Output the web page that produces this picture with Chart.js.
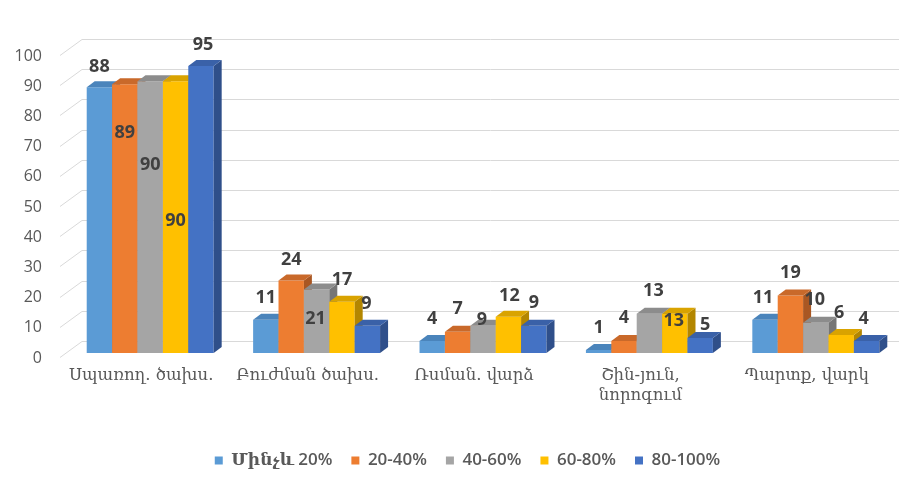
<!DOCTYPE html>
<html>
<head>
<meta charset="utf-8">
<script src="https://cdn.jsdelivr.net/npm/chart.js@4.4.1/dist/chart.umd.min.js"></script>
<style>
  html, body { margin: 0; padding: 0; background: #ffffff; }
  #wrap { width: 904px; height: 487px; position: relative; }
</style>
</head>
<body>
<div id="wrap"><canvas id="c"></canvas></div>
<script>
// ---- data ----
const categories = [
  "Սպառող. ծախս.",
  "Բուժման ծախս.",
  "Ռսման. վարձ",
  ["Շին-յուն,", "նորոգում"],
  "Պարտք, վարկ"
];
const seriesNames = ["Մինչև 20%", "20-40%", "40-60%", "60-80%", "80-100%"];
const upTo20   = [88, 11, 4, 1, 11];
const p20to40  = [89, 24, 7, 4, 19];
const p40to60  = [90, 21, 9, 13, 10];
const p60to80  = [90, 17, 12, 13, 6];
const p80to100 = [95, 9, 9, 5, 4];
const yTicks = { min: 0, max: 100, step: 10 };

// ---- styles ----
const colors = ["#5b9bd5", "#ed7d31", "#a5a5a5", "#ffc000", "#4472c4"];
const topColors = ["#4a84bb", "#c9692a", "#8c8c8c", "#d9a300", "#3a61a8"];
const sideColors = ["#3d6f9e", "#a95723", "#767676", "#b38600", "#2f4f8a"];
// label offsets from the front-top edge of each bar (px), per series / category
const labelDy = [
  [-20, -22, -22, -22, -22],
  [ 49, -21, -23, -23, -23],
  [ 84,  29,  -6, -23, -23],
  [140, -22, -21,   7, -22],
  [-21, -22, -23, -13, -22]
];
const labelDx = [
  [0, 0, 0, 0, -2],
  [0, 0, 0, 0, 0],
  [0, -1, -1, 4, -1],
  [0, 0, 1, -1, -2],
  [2, -1, 0, 5, -3]
];
const DEPTH_X = 8, DEPTH_Y = 6;
const LEGEND_SHIFT = 18;

const seriesValues = [upTo20, p20to40, p40to60, p60to80, p80to100];

function shade(ctx, pts, fill) {
  ctx.beginPath();
  ctx.moveTo(pts[0][0], pts[0][1]);
  for (let i = 1; i < pts.length; i++) ctx.lineTo(pts[i][0], pts[i][1]);
  ctx.closePath();
  ctx.fillStyle = fill;
  ctx.fill();
}

const backWall = {
  id: 'backWall',
  afterLayout(chart) {
    if (chart.legend) {
      chart.legend.left += LEGEND_SHIFT;
      chart.legend.right += LEGEND_SHIFT;
    }
  },
  beforeDatasetsDraw(chart) {
    const { ctx, chartArea, scales } = chart;
    const ys = scales.y;
    ctx.save();
    ctx.strokeStyle = '#d9d9d9';
    ctx.lineWidth = 1;
    for (let v = yTicks.min; v <= yTicks.max; v += yTicks.step) {
      const y = Math.round(ys.getPixelForValue(v)) + 0.5;
      ctx.beginPath();
      ctx.moveTo(chartArea.left - 7, y + 4);
      ctx.lineTo(chartArea.left + 15, y - 12);
      ctx.lineTo(chartArea.right, y - 12);
      ctx.stroke();
    }
    ctx.restore();
  }
};

const bar3d = {
  id: 'bar3d',
  beforeDatasetDraw() { return false; },
  afterDatasetsDraw(chart) {
    const { ctx } = chart;
    ctx.save();
    chart.data.datasets.forEach((ds, di) => {
      const meta = chart.getDatasetMeta(di);
      meta.data.forEach((el) => {
        el.draw(ctx);
        const p = el.getProps(['x', 'y', 'base', 'width'], true);
        const x0 = p.x - p.width / 2, x1 = p.x + p.width / 2;
        const yt = p.y, yb = p.base;
        shade(ctx, [[x1, yt], [x1 + DEPTH_X, yt - DEPTH_Y], [x1 + DEPTH_X, yb - DEPTH_Y], [x1, yb]], sideColors[di]);
        shade(ctx, [[x0, yt], [x0 + DEPTH_X, yt - DEPTH_Y], [x1 + DEPTH_X, yt - DEPTH_Y], [x1, yt]], topColors[di]);
      });
    });
    // value labels
    ctx.font = 'bold 18px "Open Sans", sans-serif';
    ctx.fillStyle = '#404040';
    ctx.textAlign = 'center';
    ctx.textBaseline = 'middle';
    chart.data.datasets.forEach((ds, di) => {
      const meta = chart.getDatasetMeta(di);
      meta.data.forEach((el, i) => {
        const p = el.getProps(['x', 'y'], true);
        ctx.fillText(String(ds.data[i]), p.x + labelDx[di][i], p.y + labelDy[di][i]);
      });
    });
    ctx.restore();
  }
};

const datasets = seriesNames.map((name, i) => ({
  label: name,
  data: seriesValues[i],
  backgroundColor: colors[i],
  borderWidth: 0,
  categoryPercentage: 0.763,
  barPercentage: 1.0
}));

new Chart(document.getElementById('c'), {
  type: 'bar',
  data: { labels: categories, datasets },
  plugins: [backWall, bar3d],
  options: {
    responsive: true,
    maintainAspectRatio: false,
    animation: false,
    layout: { padding: { top: 51, left: 0, right: 5, bottom: 8 } },
    plugins: {
      tooltip: { enabled: false },
      legend: {
        position: 'bottom',
        labels: {
          boxWidth: 8,
          boxHeight: 8,
          padding: 19,
          color: '#595959',
          font: { family: "'Open Sans', 'DejaVu Serif', sans-serif", size: 17, weight: '600' }
        }
      }
    },
    scales: {
      x: {
        grid: { display: false, drawTicks: false },
        border: { display: false },
        ticks: {
          color: '#595959',
          font: { family: "'DejaVu Serif', serif", size: 16.5, lineHeight: 1.25 },
          padding: 12,
          labelOffset: -9,
          maxRotation: 0,
          autoSkip: false
        },
        afterFit(s) { s.height = 80; }
      },
      y: {
        min: yTicks.min,
        max: yTicks.max,
        grid: { display: false, drawTicks: false },
        border: { display: false },
        ticks: {
          stepSize: yTicks.step,
          color: '#595959',
          font: { family: "'Open Sans', sans-serif", size: 16 },
          padding: 25,
          labelOffset: 5
        },
        afterFit(s) { s.width = 67; }
      }
    }
  }
});
</script>
</body>
</html>
